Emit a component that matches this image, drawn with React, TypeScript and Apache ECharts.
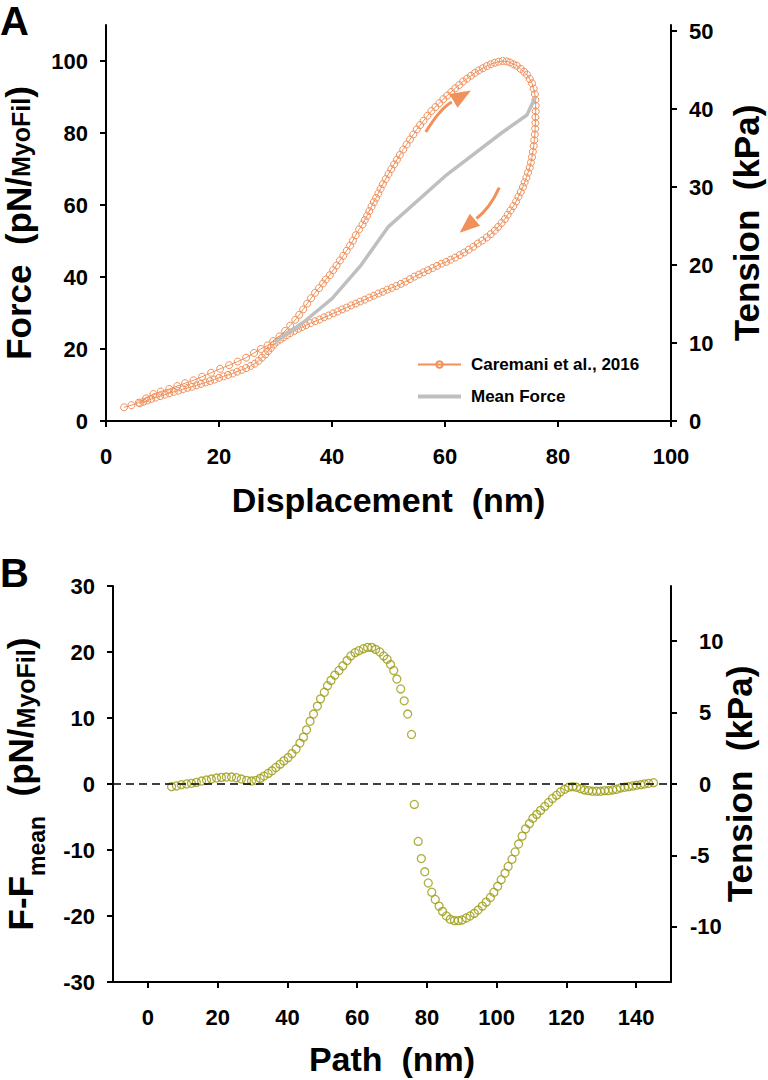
import React, { useEffect, useRef } from "react";
import * as echarts from "echarts";

const FONT = '"Liberation Sans", Arial, Helvetica, sans-serif';
const ORANGE = "#F0905A";
const GRAY = "#BFBFBF";
const OLIVE = "#9A9A10";

// Panel A — Caremani et al., 2016 loop (displacement nm, force pN/MyoFil)
const upperBranch: number[][] = [
  [3.2, 3.8], [4.5, 4.4], [5.8, 5.1], [7.1, 6.3], [8.4, 7.5], [9.7, 8.2], [11.2, 8.9], [12.6, 9.7],
  [14.0, 10.5], [15.5, 11.3], [17.0, 12.3], [18.6, 13.4], [20.2, 14.5], [21.8, 15.5], [23.3, 16.5],
  [24.8, 17.6], [26.2, 18.9], [27.4, 20.0], [28.6, 21.0], [29.6, 22.2], [30.7, 23.5], [31.7, 25.0],
  [32.6, 26.5], [33.5, 28.1], [34.2, 29.5], [34.9, 31.0], [35.6, 32.6], [36.3, 34.1], [37.0, 35.6],
  [37.7, 36.9], [38.4, 38.2], [38.9, 39.3], [39.6, 40.5], [40.2, 41.9], [40.8, 43.2], [41.4, 44.6],
  [42.0, 45.9], [42.6, 47.3], [43.2, 48.7], [43.7, 50.1], [44.2, 51.6], [44.8, 53.2], [45.4, 54.6],
  [45.8, 55.8], [46.2, 57.0], [46.6, 58.3], [47.0, 59.6], [47.4, 60.8], [47.8, 62.0], [48.2, 63.2],
  [48.6, 64.5], [49.0, 65.8], [49.5, 67.2], [50.0, 68.6], [50.5, 70.0], [51.0, 71.3], [51.5, 72.6],
  [52.0, 73.9], [52.6, 75.4], [53.2, 76.8], [53.8, 78.2], [54.4, 79.6], [55.0, 81.0], [55.6, 82.2],
  [56.2, 83.4], [56.9, 84.8], [57.6, 86.1], [58.3, 87.2], [59.0, 88.3], [59.7, 89.4], [60.4, 90.4],
  [61.1, 91.4], [61.8, 92.4], [62.5, 93.3], [63.2, 94.3], [63.9, 95.1], [64.6, 95.9], [65.3, 96.7],
  [66.0, 97.4], [66.7, 98.0], [67.4, 98.6], [68.1, 99.1], [68.8, 99.5], [69.5, 99.8], [70.2, 100.0],
  [70.9, 99.9], [71.5, 99.6], [72.1, 99.1],
];
const rightBranch: number[][] = [
  [72.7, 98.7], [73.4, 97.8], [74.0, 97.0], [74.5, 96.2], [75.0, 95.0], [75.4, 93.8], [75.7, 92.3],
  [75.9, 90.8], [76.0, 89.2], [76.05, 87.6], [76.05, 86.0], [76.0, 84.4], [76.0, 82.8], [75.95, 81.2],
  [75.9, 79.6], [75.8, 78.0], [75.7, 76.4], [75.55, 74.8], [75.4, 73.3], [75.2, 71.8], [75.0, 70.4],
  [74.7, 69.0], [74.4, 67.6], [74.1, 66.3], [73.8, 65.0], [73.4, 63.6], [73.0, 62.3], [72.6, 61.0],
  [72.1, 59.7], [71.6, 58.5], [71.1, 57.3], [70.6, 56.1], [70.0, 55.0], [69.4, 53.9], [68.8, 52.9],
  [68.1, 51.9], [67.4, 51.0], [66.6, 50.1], [65.8, 49.3], [65.0, 48.4], [64.2, 47.6], [63.4, 46.8],
  [62.6, 46.1], [61.8, 45.4], [61.0, 44.8], [60.2, 44.2], [59.4, 43.7], [58.6, 43.1], [57.8, 42.5],
  [57.0, 41.9], [56.2, 41.3], [55.4, 40.7], [54.6, 40.1], [53.8, 39.4], [53.0, 38.7],
];
const lowerBranch: number[][] = [
  [52.2, 38.1], [51.4, 37.5], [50.6, 37.0], [49.8, 36.5], [49.0, 35.9], [48.2, 35.4], [47.4, 34.8],
  [46.6, 34.3], [45.8, 33.7], [45.0, 33.2], [44.2, 32.6], [43.4, 32.1], [42.6, 31.5], [41.8, 31.0],
  [41.0, 30.4], [40.2, 29.9], [39.4, 29.3], [38.6, 28.8], [37.8, 28.2], [37.0, 27.7], [36.2, 27.2],
  [35.4, 26.6], [34.7, 26.1], [34.0, 25.6], [33.3, 25.0], [32.6, 24.4], [32.0, 23.8], [31.4, 23.2],
  [30.8, 22.6], [30.2, 22.0], [29.7, 21.2], [29.2, 20.3], [28.7, 19.4], [28.2, 18.5], [27.6, 17.6],
  [27.0, 16.7], [26.3, 15.9], [25.6, 15.3], [24.8, 14.7], [24.0, 14.2], [23.2, 13.7], [22.4, 13.2],
  [21.6, 12.8], [20.8, 12.4], [20.0, 12.0], [19.2, 11.5], [18.4, 11.1], [17.6, 10.7], [16.8, 10.3],
  [16.0, 9.9], [15.2, 9.5], [14.4, 9.2], [13.6, 8.8], [12.8, 8.4], [12.0, 8.1], [11.2, 7.7],
  [10.4, 7.3], [9.6, 6.9], [8.8, 6.5], [8.0, 6.1], [7.3, 5.7], [6.6, 5.3], [6.0, 4.9],
];
const meanForce: number[][] = [
  [30, 22], [35, 27.5], [40, 34], [45, 43], [50, 54], [60, 68], [70, 80], [74.5, 85], [76, 90],
];

// Panel B — F - Fmean along the path
const deltaRise: number[][] = [
  [6.8, -0.4], [8.2, -0.3], [9.6, -0.1], [11.1, 0], [12.5, 0.1], [13.9, 0.25], [15.4, 0.45], [16.8, 0.6],
  [18.2, 0.75], [19.7, 0.9], [21.1, 1.0], [22.5, 1.05], [24.0, 1.05], [25.4, 0.95], [26.8, 0.75],
  [28.3, 0.55], [29.7, 0.45], [31.0, 0.55], [32.2, 0.85], [33.3, 1.2], [34.5, 1.6], [35.6, 2.0],
  [36.7, 2.5], [37.9, 3.0], [39.0, 3.5], [40.2, 4.0], [41.3, 4.6], [42.5, 5.3], [43.6, 6.2], [44.6, 7.1],
  [45.5, 8.2], [46.5, 9.5], [47.5, 10.6], [48.6, 11.8], [49.5, 12.9], [50.6, 13.9], [51.5, 14.9],
  [52.5, 15.7], [53.6, 16.5], [54.8, 17.2], [55.9, 17.9], [57.1, 18.7], [58.2, 19.4], [59.4, 19.9],
  [60.5, 20.2], [61.8, 20.5], [63.0, 20.7], [64.2, 20.7], [65.3, 20.4], [66.5, 20.0], [67.6, 19.4],
  [68.6, 18.9], [69.6, 18.1], [70.5, 17.2], [71.4, 15.9], [72.5, 14.4], [73.5, 12.6], [74.5, 10.6],
  [75.6, 7.5],
];
const deltaFall: number[][] = [
  [76.4, -3.1], [77.5, -8.7], [78.4, -11.3], [79.4, -13.3], [80.4, -15.0], [81.4, -16.4], [82.4, -17.5],
  [83.5, -18.5], [84.5, -19.3], [85.6, -20.0], [86.7, -20.5], [87.9, -20.7], [89.0, -20.7], [90.1, -20.6],
  [91.3, -20.3], [92.4, -20.0], [93.6, -19.6], [94.7, -19.1], [95.9, -18.5], [97.0, -17.9], [98.2, -17.2],
  [99.2, -16.4], [100.3, -15.5], [101.3, -14.5], [102.4, -13.5], [103.3, -12.5], [104.4, -11.4],
  [105.3, -10.3], [106.3, -9.1], [107.3, -7.9], [108.3, -6.8], [109.4, -6.0], [110.4, -5.2],
  [111.5, -4.6], [112.6, -4.0], [113.8, -3.4], [114.9, -2.8], [116.0, -2.2], [117.2, -1.7],
  [118.3, -1.2], [119.5, -0.8], [120.6, -0.5], [121.8, -0.4], [122.9, -0.5], [124.1, -0.7],
  [125.2, -0.9], [126.4, -1.0], [127.5, -1.1], [128.7, -1.1], [129.8, -1.1], [131.0, -1.0],
  [132.1, -1.0], [133.3, -0.9], [134.4, -0.8], [135.5, -0.6], [136.7, -0.5], [137.8, -0.4],
  [139.0, -0.3], [140.1, -0.2], [141.3, -0.1], [142.4, 0], [143.6, 0.1], [145.0, 0.2],
];

// Tick values
const xTicksA = [0, 20, 40, 60, 80, 100];
const forceTicksA = [0, 20, 40, 60, 80, 100];
const tensionTicksA = [0, 10, 20, 30, 40, 50];
const xTicksB = [0, 20, 40, 60, 80, 100, 120, 140];
const tensionTicksB = [-10, -5, 0, 5, 10];
const KPA_PER_PN = 0.4618;

// Annotation arrows in data coordinates of panel A: start, mid, end of shaft, tip
const arrowUp = [[56.6, 80.3], [59.1, 85.7], [61.5, 88.9], [64.6, 91.8]];
const arrowDown = [[69.6, 64.8], [67.7, 59.7], [65.3, 55.9], [62.6, 52.3]];

const axisLine = { onZero: false, lineStyle: { color: "#000", width: 2 } };
const axisTick = { length: 6, lineStyle: { color: "#000", width: 2 } };
const labelBase = { fontFamily: FONT, fontSize: 22, fontWeight: "bold" as const, color: "#000" };
const nameRich = {
  a: { fontFamily: FONT, fontSize: 35, fontWeight: "bold", color: "#000", lineHeight: 34 },
  b: { fontFamily: FONT, fontSize: 25, fontWeight: "bold", color: "#000", lineHeight: 28, padding: [6, 0, 0, 0] },
  s: { fontFamily: FONT, fontSize: 23, fontWeight: "bold", color: "#000", lineHeight: 23, padding: [22, 0, 0, 0], verticalAlign: "top" },
  t: { fontFamily: FONT, fontSize: 35, fontWeight: "bold", color: "#000", lineHeight: 40, verticalAlign: "top" },
};
const plainName = { fontFamily: FONT, fontSize: 35, fontWeight: "bold", color: "#000", lineHeight: 36 };

export default function App() {
  const ref = useRef<HTMLDivElement>(null);
  useEffect(() => {
    if (!ref.current) return;
    const chart = echarts.init(ref.current, null, { renderer: "svg" });
    const option: any = {
      animation: false,
      backgroundColor: "#fff",
      textStyle: { fontFamily: FONT },
      grid: [
        { left: 106, top: 25, width: 565, height: 396, containLabel: false, outerBoundsMode: "none" },
        { left: 113, top: 586, width: 558, height: 396, containLabel: false, outerBoundsMode: "none" },
      ],
      legend: {
        data: [
          { name: "Caremani et al., 2016" },
          { name: "Mean Force", icon: "path://M0,0 L43,0 L43,4 L0,4 Z" },
        ],
        orient: "vertical",
        left: 412,
        top: 351,
        itemWidth: 43,
        itemHeight: 8,
        itemGap: 15,
        textStyle: { fontFamily: FONT, fontSize: 17, fontWeight: "bold", color: "#000", padding: [0, 0, 0, 5] },
      },
      xAxis: [
        {
          gridIndex: 0, type: "value", min: 0, max: 100, interval: 20,
          axisLine, axisTick: { ...axisTick, customValues: xTicksA },
          axisLabel: { ...labelBase, margin: 24, customValues: xTicksA },
          splitLine: { show: false },
          name: "Displacement  (nm)", nameLocation: "middle", nameGap: 62, nameMoveOverlap: false,
          nameTextStyle: { fontFamily: FONT, fontSize: 34, fontWeight: "bold", color: "#000" },
        },
        {
          gridIndex: 1, type: "value", min: -10, max: 150,
          axisLine, axisTick: { ...axisTick, customValues: xTicksB },
          axisLabel: { ...labelBase, margin: 24, customValues: xTicksB },
          splitLine: { show: false },
          name: "Path  (nm)", nameLocation: "middle", nameGap: 60, nameMoveOverlap: false,
          nameTextStyle: { fontFamily: FONT, fontSize: 34, fontWeight: "bold", color: "#000" },
        },
      ],
      yAxis: [
        {
          gridIndex: 0, type: "value", position: "left", min: 0, max: 110,
          axisLine, axisTick: { ...axisTick, customValues: forceTicksA },
          axisLabel: { ...labelBase, margin: 18, customValues: forceTicksA },
          splitLine: { show: false },
          name: "{a|Force  (pN/}{b|MyoFil}{a|)}", nameLocation: "middle", nameGap: 71, nameMoveOverlap: false,
          nameTextStyle: { rich: nameRich },
        },
        {
          gridIndex: 0, type: "value", position: "right", min: 0, max: 110 * KPA_PER_PN,
          axisLine, axisTick: { ...axisTick, customValues: tensionTicksA },
          axisLabel: { ...labelBase, margin: 18, customValues: tensionTicksA },
          splitLine: { show: false },
          name: "Tension  (kPa)", nameLocation: "middle", nameGap: 57, nameMoveOverlap: false,
          nameTextStyle: plainName,
        },
        {
          gridIndex: 1, type: "value", position: "left", min: -30, max: 30, interval: 10,
          axisLine, axisTick,
          axisLabel: { ...labelBase, margin: 18 },
          splitLine: { show: false },
          name: "{t|F-F}{s|mean}{t|  (pN/}{b|MyoFil}{t|)}", nameLocation: "middle", nameGap: 70, nameMoveOverlap: false,
          nameTextStyle: { rich: nameRich },
        },
        {
          gridIndex: 1, type: "value", position: "right", min: -30 * KPA_PER_PN, max: 30 * KPA_PER_PN,
          axisLine, axisTick: { ...axisTick, customValues: tensionTicksB },
          axisLabel: {
            ...labelBase, margin: 19, customValues: tensionTicksB,
            formatter: (v: number) => (v < 0 ? `${v}` : `{p|${v}}`),
            rich: { p: { ...labelBase, padding: [0, 0, 0, 9] } },
          },
          splitLine: { show: false },
          name: "Tension  (kPa)", nameLocation: "middle", nameGap: 50, nameMoveOverlap: false,
          nameTextStyle: plainName,
        },
      ],
      series: [
        {
          name: "Caremani et al., 2016", type: "line", xAxisIndex: 0, yAxisIndex: 0,
          data: [...upperBranch, ...rightBranch, ...lowerBranch],
          symbol: "circle", symbolSize: 7, showSymbol: true,
          itemStyle: { color: "rgba(255,255,255,0)", borderColor: ORANGE, borderWidth: 1 },
          lineStyle: { color: ORANGE, width: 1 },
          z: 2,
        },
        {
          name: "Mean Force", type: "line", xAxisIndex: 0, yAxisIndex: 0,
          data: meanForce, symbol: "none", itemStyle: { color: GRAY },
          lineStyle: { color: GRAY, width: 3.5 },
          z: 3,
        },
        {
          type: "scatter", xAxisIndex: 1, yAxisIndex: 2,
          data: [...deltaRise, ...deltaFall],
          symbol: "circle", symbolSize: 8,
          itemStyle: { color: "rgba(255,255,255,0)", borderColor: OLIVE, borderWidth: 1.3 },
          markLine: {
            silent: true, symbol: "none", label: { show: false },
            lineStyle: { color: "#000", width: 1.5, type: [8, 5] },
            data: [{ yAxis: 0 }],
          },
          z: 2,
        },
      ],
    };
    chart.setOption(option);

    const toPx = (p: number[]) => chart.convertToPixel({ xAxisIndex: 0, yAxisIndex: 0 }, p) as number[];
    const makeArrow = (pts: number[][]) => {
      const [s, m, e, t] = pts.map(toPx);
      const cx = 2 * m[0] - (s[0] + e[0]) / 2;
      const cy = 2 * m[1] - (s[1] + e[1]) / 2;
      const dx = t[0] - e[0];
      const dy = t[1] - e[1];
      const len = Math.hypot(dx, dy) || 1;
      const px = -dy / len;
      const py = dx / len;
      const hw = 8;
      return [
        {
          type: "bezierCurve",
          shape: { x1: s[0], y1: s[1], x2: e[0] - (dx / len) * 2, y2: e[1] - (dy / len) * 2, cpx1: cx, cpy1: cy },
          style: { stroke: ORANGE, lineWidth: 3, fill: "none" },
          z: 10,
        },
        {
          type: "polygon",
          shape: { points: [[t[0], t[1]], [e[0] + px * hw, e[1] + py * hw], [e[0] - px * hw, e[1] - py * hw]] },
          style: { fill: ORANGE },
          z: 10,
        },
      ];
    };
    chart.setOption({
      graphic: [
        { type: "text", left: 0, top: 1, style: { text: "A", font: `bold 40px ${FONT}`, fill: "#000" } },
        { type: "text", left: 0, top: 553, style: { text: "B", font: `bold 40px ${FONT}`, fill: "#000" } },
        ...makeArrow(arrowUp),
        ...makeArrow(arrowDown),
      ],
    });
    return () => chart.dispose();
  }, []);
  return (
    <div
      ref={ref}
      style={{ position: "fixed", left: 0, top: 0, width: 768, height: 1080, background: "#fff" }}
    />
  );
}
